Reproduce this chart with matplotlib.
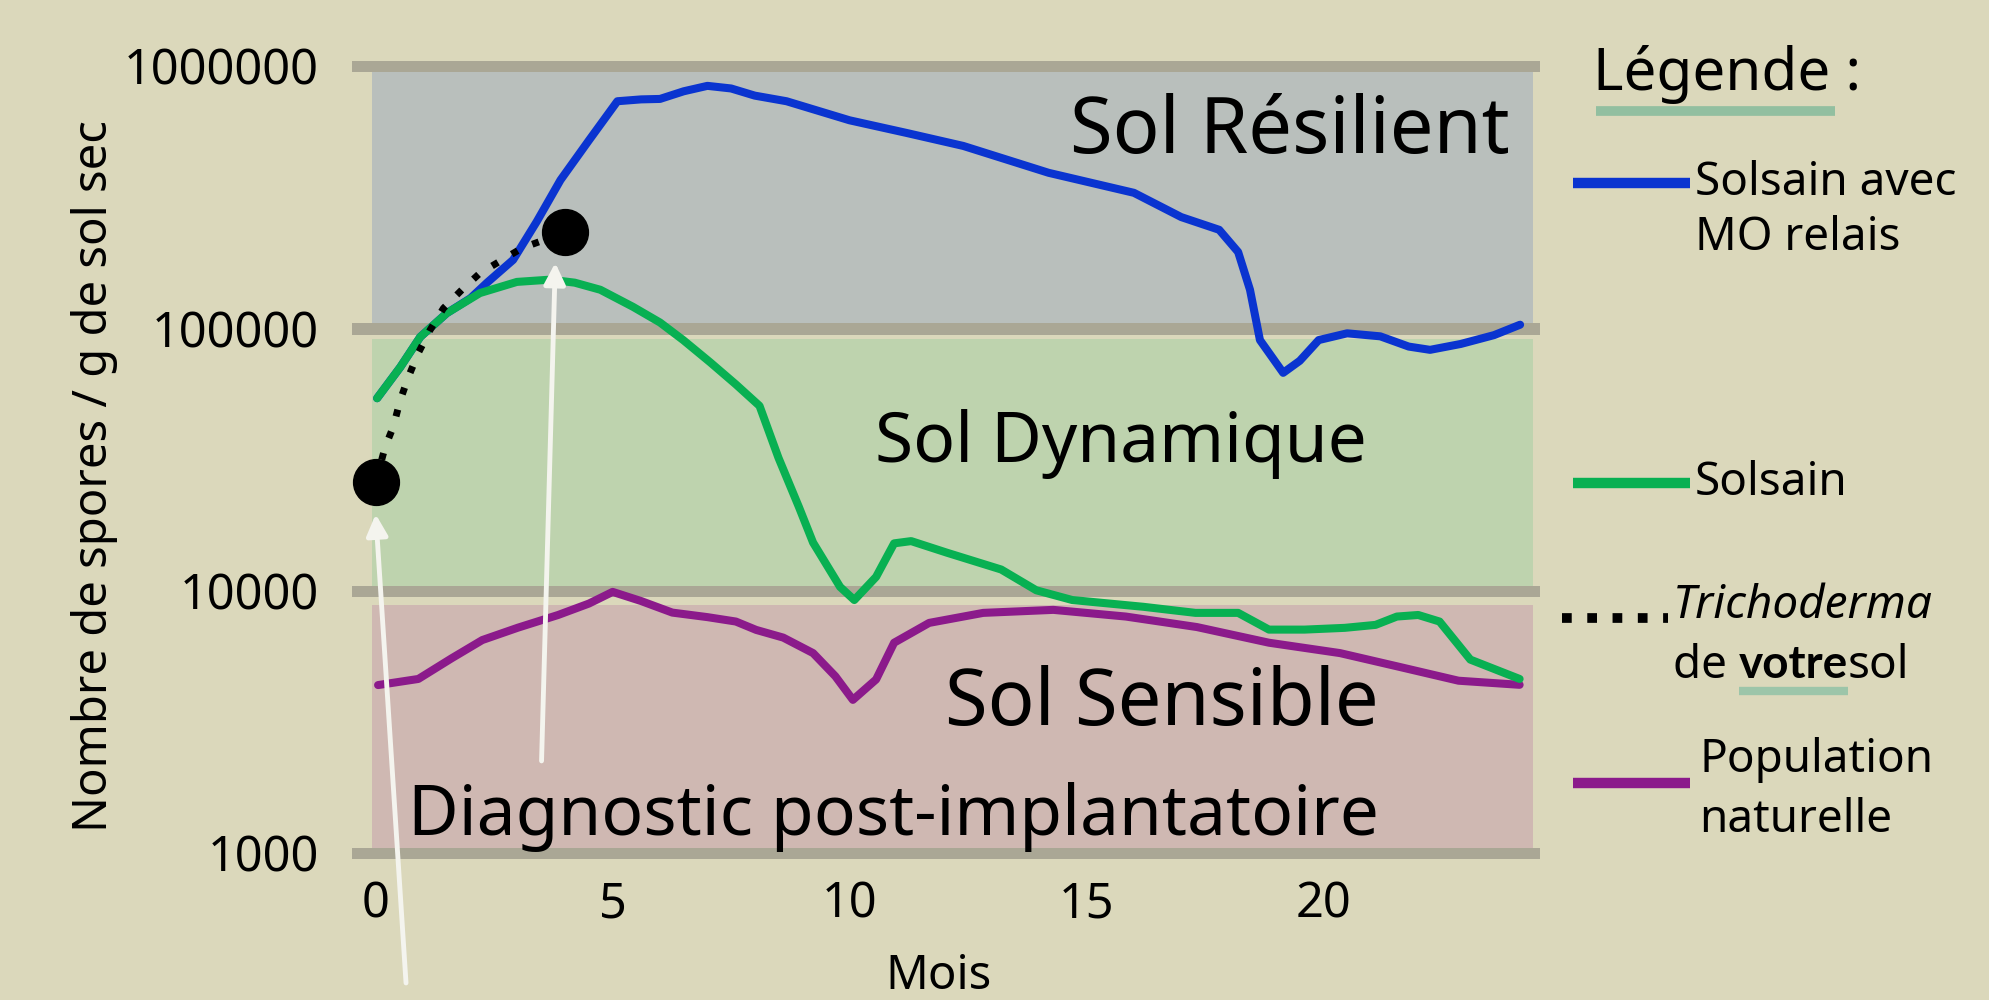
import numpy as np
import matplotlib
matplotlib.use("Agg")
import matplotlib.pyplot as plt
from matplotlib.lines import Line2D

plt.rcParams['font.family'] = ['Noto Sans', 'DejaVu Sans']

# ---- data ----
blue_x = [0.03, 0.52, 0.94, 1.5, 2.0, 2.35, 2.9, 3.4, 3.9, 4.5, 5.1, 5.6, 6.0, 6.5, 7.0, 7.5,
          8.0, 8.67, 10.0, 11.2, 12.4, 14.2, 16.0, 17.0, 17.8, 18.2, 18.45, 18.66, 19.15, 19.5,
          19.9, 20.5, 21.2, 21.8, 22.25, 22.9, 23.6, 24.15]
blue_y = [54000, 71000, 92500, 114000, 130000, 149000, 182000, 255000, 367000, 520000, 733000,
          745000, 748000, 800000, 839000, 820000, 770000, 733000, 620000, 555000, 495000, 391000,
          328000, 265000, 237000, 195000, 140000, 90000, 67500, 75000, 90000, 95500, 93000,
          85000, 82600, 87000, 94000, 103000]

green_x = [0.03, 0.52, 0.94, 1.5, 2.2, 2.98, 3.68, 4.2, 4.74, 5.43, 6.0, 6.49, 7.06, 7.6, 8.1,
           8.5, 8.93, 9.23, 9.8, 10.1, 10.56, 10.94, 11.3, 12.06, 13.2, 13.94, 14.7, 16.2, 17.3,
           18.2, 18.85, 19.6, 20.45, 21.1, 21.55, 22.0, 22.45, 23.1, 24.14]
green_y = [54000, 71000, 92500, 114000, 136000, 150000, 153000, 149000, 140000, 120500, 105000,
           90000, 74000, 61000, 50500, 32000, 20800, 15200, 10300, 9180, 11250, 15100, 15400,
           13900, 12000, 10000, 9180, 8650, 8200, 8200, 7080, 7080, 7190, 7380, 7940, 8050, 7600,
           5440, 4590]

purple_x = [0.05, 0.9, 1.6, 2.25, 3.0, 3.85, 4.5, 5.0, 5.6, 6.26, 7.0, 7.6, 8.03, 8.6, 9.23,
            9.7, 10.07, 10.56, 10.94, 11.68, 12.82, 14.3, 15.83, 17.33, 18.85, 20.35, 21.55,
            22.85, 24.14]
purple_y = [4350, 4590, 5500, 6460, 7200, 8050, 8900, 9860, 9100, 8220, 7900, 7600, 7060, 6600,
            5760, 4700, 3820, 4570, 6310, 7510, 8200, 8420, 7940, 7240, 6310, 5760, 5130, 4520,
            4360]

tri_x = [0, 0.2, 0.37, 0.52, 0.69, 0.9, 1.15, 1.43, 1.82, 2.2, 2.67, 3.09, 3.5, 4.0]
tri_y = [25900, 35200, 42000, 53200, 65100, 80400, 98500, 119000, 140000, 162000, 182000,
         202000, 215000, 233000]

diag_x = [0, 4]
diag_y = [25900, 233000]

# arrows: (start month, start value) -> (end month, end value)
arrow_start = [(0.64, 318), (3.50, 2235)]
arrow_end = [(0.0, 19500), (3.79, 177400)]

decades = [1e3, 1e4, 1e5, 1e6]
ytick_labels = ["1000", "10000", "100000", "1000000"]
xticks = [0, 5, 10, 15, 20]

zones = ["Sol Résilient", "Sol Dynamique", "Sol Sensible"]
zone_pos = [(19.29, 466000), (15.73, 30900), (16.58, 3070)]
zone_size = [56, 50, 56]
zone_colors = ['#b9bfbc', '#bed3ae', '#cfb8b2']

bg = '#dbd8bb'
c_blue = '#0a34d0'
c_green = '#08b052'
c_purple = '#8b1a8b'

W, H = 1989, 1000
fig = plt.figure(figsize=(W / 100, H / 100), dpi=100, facecolor=bg)


def P(x, y):
    return (x / W, 1 - y / H)


ax = fig.add_axes([352 / W, 134.4 / H, (1540 - 352) / W, (942 - 134.4) / H])
ax.set_facecolor(bg)
ax.set_yscale('log')
ax.set_xlim(-0.5, 24.57)
ax.set_ylim(10 ** 2.95, 10 ** 6.03)
for s in ax.spines.values():
    s.set_visible(False)

# coloured zones
band_x = [-0.074, 24.42]
ax.fill_between(band_x, 1e5, 1e6, color=zone_colors[0], lw=0, zorder=0)
ax.fill_between(band_x, 1e4, 1e5 * 10 ** -0.04, color=zone_colors[1], lw=0, zorder=0)
ax.fill_between(band_x, 1e3, 1e4 * 10 ** -0.055, color=zone_colors[2], lw=0, zorder=0)
for d in decades:
    ax.axhspan(d * 10 ** -0.025, d * 10 ** 0.018, color='#aaa795', lw=0, zorder=0.5)

ax.set_yticks(decades)
ax.set_yticklabels(ytick_labels)
ax.set_xticks(xticks)
ax.minorticks_off()
ax.tick_params(axis='both', length=0, labelsize=35)
ax.tick_params(axis='y', pad=24)
ax.tick_params(axis='x', pad=10)

line_kw = dict(lw=5.8, solid_joinstyle='round', solid_capstyle='round')
ax.plot(purple_x, purple_y, color=c_purple, zorder=2, **line_kw)
ax.plot(blue_x, blue_y, color=c_blue, zorder=3, **line_kw)
ax.plot(green_x, green_y, color=c_green, zorder=4, **line_kw)
ax.plot(tri_x, tri_y, color='black', lw=5, dashes=(1, 2.3), zorder=5)
ax.plot(diag_x, diag_y, 'o', color='black', ms=33, zorder=6)

for (x0, y0), (x1, y1) in zip(arrow_start, arrow_end):
    ax.annotate("", xy=(x1, y1), xytext=(x0, y0), annotation_clip=False,
                arrowprops=dict(arrowstyle='-|>', color='#f4f4ee', lw=3.5,
                                mutation_scale=32, shrinkA=0, shrinkB=0),
                zorder=7)

for label, (x, y), fs in zip(zones, zone_pos, zone_size):
    ax.text(x, y, label, fontsize=fs, ha='center', va='baseline', zorder=8)
ax.text(10.92, 1167, "Diagnostic post-implantatoire", fontsize=50, ha='center',
        va='baseline', zorder=8)

fig.text(*P(95, 476), "Nombre de spores / g de sol sec", rotation=90, fontsize=34,
         ha='center', va='center')
fig.text(*P(939, 1000), "Mois", fontsize=34, ha='center', va='bottom')

# ---- legend ----
fig.text(*P(1593, 90), "Légende :", fontsize=42, ha='left', va='baseline')
fig.add_artist(Line2D([1596 / W, 1835 / W], [1 - 111 / H] * 2, color='#92bfa0', lw=7,
                      solid_capstyle='butt'))

for yy, col in [(183, c_blue), (483, c_green), (783, c_purple)]:
    fig.add_artist(Line2D([1573 / W, 1690 / W], [1 - yy / H] * 2, color=col, lw=7.5,
                          solid_capstyle='butt'))
fig.add_artist(Line2D([1562 / W, 1668 / W], [1 - 618 / H] * 2, color='black', lw=7,
                      dashes=(1, 1.6)))

fig.text(*P(1695, 195), "Solsain avec", fontsize=33, va='baseline')
fig.text(*P(1695, 250), "MO relais", fontsize=33, va='baseline')
fig.text(*P(1695, 495), "Solsain", fontsize=33, va='baseline')
fig.text(*P(1673, 618), "Trichoderma", fontsize=33, style='italic', va='baseline')
fig.text(*P(1699, 772), "Population", fontsize=33, va='baseline')
fig.text(*P(1699, 832), "naturelle", fontsize=33, va='baseline')

r = fig.canvas.get_renderer()
t1 = fig.text(*P(1673, 678), "de ", fontsize=33, va='baseline')
x1 = t1.get_window_extent(r).x1
t2 = fig.text(x1 / W, 1 - 678 / H, "votre", fontsize=33, weight='bold',
              family=['Lato', 'DejaVu Sans'], va='baseline')
e2 = t2.get_window_extent(r)
fig.text(e2.x1 / W, 1 - 678 / H, "sol", fontsize=33, va='baseline')
fig.add_artist(Line2D([e2.x0 / W, e2.x1 / W], [1 - 691 / H] * 2, color='#9cc5a9', lw=6,
                      solid_capstyle='butt'))

fig.savefig("out.png", dpi=100, facecolor=bg)
